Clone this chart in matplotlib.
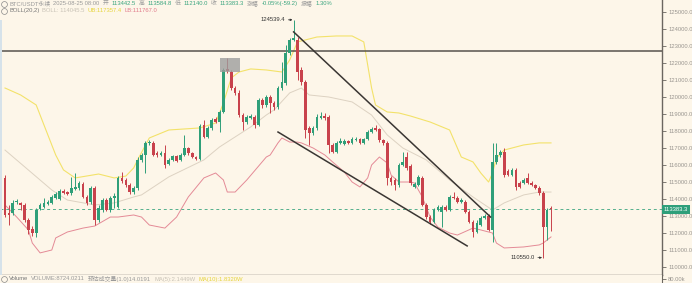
import numpy as np
import matplotlib.pyplot as plt
from matplotlib.lines import Line2D
from matplotlib.patches import Rectangle
from matplotlib.ticker import FormatStrFormatter
from matplotlib.transforms import blended_transform_factory

plt.rcParams['font.family'] = ['Liberation Sans', 'Noto Sans CJK SC', 'DejaVu Sans']

# ---- 4h candles, BTC/USDT perpetual ----
open_ = [
    115240, 113180, 113180, 113820, 113770, 113650, 112770, 112240, 112000, 113410,
    113530, 113710, 113770, 114060, 114000, 114470, 114410, 114350, 114590, 114650,
    114880, 114120, 113820, 114650, 112770, 113350, 113940, 113350, 114060, 113530,
    115240, 115120, 114830, 114410, 114650, 116300, 116590, 117300, 117300, 116710,
    116590, 116710, 116060, 116300, 116530, 116300, 116590, 117000, 116710, 116470,
    116350, 118350, 117650, 118180, 118710, 118530, 119120, 121650, 121470, 120530,
    120240, 118940, 118530, 118770, 118830, 118350, 119820, 119530, 120000, 119650,
    119410, 120530, 120820, 122590, 123350, 123350, 121590, 120880, 118180, 117880,
    118180, 118770, 118880, 118830, 117180, 116770, 117300, 117240, 117410, 117300,
    117470, 117530, 117300, 117530, 117940, 118180, 118120, 117470, 117300, 115240,
    115120, 114830, 116000, 116470, 115940, 114710, 114830, 115240, 113650, 112940,
    112650, 113350, 113240, 113530, 113350, 114120, 114060, 113820, 113820, 113240,
    112650, 112060, 112470, 112880, 113000, 112180, 116180, 116590, 116770, 115650,
    115410, 115710, 114940, 114940, 115240, 114940, 114830, 114650, 114350, 112350,
    113442.5]
high = [
    115410, 113650, 113940, 114000, 113820, 113770, 112880, 112410, 113470, 113770,
    114060, 113940, 114240, 114410, 114590, 114590, 114470, 115300, 115530, 115060,
    115000, 114240, 114770, 114770, 113650, 114060, 114060, 114180, 114350, 115350,
    115590, 115240, 114940, 114770, 116470, 116710, 117410, 117470, 117410, 116830,
    116830, 117180, 116410, 116590, 116590, 116710, 117770, 117060, 116770, 116530,
    118410, 118650, 118300, 118770, 118830, 119240, 121710, 122300, 121590, 120650,
    120410, 119060, 118940, 119000, 118940, 119940, 119940, 120120, 120120, 119770,
    120650, 122060, 123060, 123470, 124539.4, 123530, 121770, 121000, 118300, 118300,
    119000, 119120, 119060, 118940, 117300, 117410, 117590, 117530, 117470, 117650,
    117650, 117590, 117590, 118060, 118240, 118350, 118180, 117530, 117410, 115350,
    115240, 116120, 116770, 116770, 116060, 115000, 115410, 115350, 113770, 113060,
    113470, 113650, 113650, 113650, 114240, 114410, 114180, 114060, 113940, 113350,
    112770, 112770, 113000, 113120, 113120, 117300, 117300, 116880, 117000, 115770,
    115830, 115830, 115060, 115240, 115530, 115060, 114880, 114770, 114470, 113470,
    113584.8]
low = [
    112940, 112470, 113060, 113710, 113350, 112650, 111940, 111820, 111770, 113350,
    113470, 113650, 113710, 114000, 113940, 114300, 114240, 114240, 114530, 114530,
    114060, 113650, 113710, 112470, 112650, 113240, 113300, 113240, 113470, 113470,
    114940, 114710, 114300, 114300, 114530, 116180, 115530, 117180, 116530, 116470,
    116530, 115830, 116000, 116240, 116180, 116240, 116530, 116590, 116410, 116300,
    116300, 117590, 117590, 118060, 118470, 117940, 119060, 121410, 120410, 120120,
    118830, 118060, 118410, 118710, 118180, 118300, 119350, 119410, 119060, 119240,
    119300, 120410, 120710, 122470, 123290, 121000, 120710, 117590, 117180, 117770,
    118060, 118710, 118650, 116710, 116710, 116710, 117240, 117180, 117240, 117240,
    117410, 117240, 117240, 117470, 117880, 118000, 117350, 117180, 114830, 114830,
    114530, 114710, 115940, 115710, 114830, 114650, 114770, 113590, 112830, 112530,
    112590, 113300, 112350, 113300, 113300, 114000, 113770, 113770, 113180, 112590,
    111770, 112000, 112410, 112830, 112120, 111470, 116060, 116470, 115300, 115350,
    115350, 114530, 114650, 114880, 114880, 114770, 114590, 114240, 110550, 111590,
    112140]
close = [
    113060, 113060, 113770, 113880, 113650, 112770, 112180, 112000, 113350, 113650,
    113770, 113820, 114120, 114300, 114470, 114350, 114300, 114650, 114710, 114940,
    114120, 113770, 114650, 112770, 113470, 113940, 113350, 114060, 114180, 115240,
    115060, 114830, 114410, 114650, 116300, 116590, 117300, 117350, 116590, 116590,
    116710, 116000, 116300, 116530, 116240, 116590, 117000, 116710, 116470, 116350,
    118300, 117650, 118180, 118650, 118530, 119120, 121590, 121530, 120530, 120240,
    118940, 118530, 118830, 118880, 118350, 119820, 119530, 120000, 119650, 119410,
    120530, 120880, 122590, 123350, 123470, 121470, 120880, 118060, 117880, 118180,
    118830, 118880, 118770, 117180, 116770, 117300, 117410, 117410, 117300, 117530,
    117530, 117300, 117530, 117940, 118120, 118060, 117470, 117300, 115240, 115000,
    114830, 116000, 116180, 115830, 114940, 114880, 115300, 113650, 112940, 112650,
    113350, 113530, 113530, 113350, 114120, 114060, 113820, 113940, 113240, 112650,
    112060, 112590, 112880, 113000, 112180, 116180, 116590, 116770, 115410, 115410,
    115710, 114710, 114710, 115120, 114940, 114830, 114650, 114350, 112350, 113350,
    113383.3]

# BOLL(20,2) bands, sampled at candle indices
ub_idx = [0, 4, 8, 10, 13, 15, 18, 24, 28, 31, 33, 34, 37, 42, 50, 54, 56, 58, 60, 63,
          67, 71, 73, 75, 80, 85, 89, 92, 93, 94, 95, 98, 101, 104, 109, 114, 117, 120,
          122, 124, 125, 126, 128, 133, 137, 140]
ub_val = [120530, 120120, 119530, 118350, 116590, 115710, 115240, 115470, 115240, 115350,
          115830, 116300, 117590, 118060, 118180, 118470, 119650, 121120, 121470, 121650,
          121590, 121470, 122180, 123240, 123530, 123590, 123590, 123240, 121880, 120530,
          119530, 119120, 119060, 118880, 118530, 118060, 116470, 116180, 115530, 115000,
          115530, 116410, 116880, 117180, 117300, 117300]
mb_idx = [0, 12, 16, 23, 28, 33, 35, 42, 51, 55, 59, 63, 67, 69, 73, 76, 78, 83, 89, 94,
          98, 102, 108, 114, 120, 125, 128, 133, 137, 140]
mb_val = [116880, 114530, 113940, 113650, 113770, 114120, 114240, 115300, 116300, 117060,
          117650, 118240, 118940, 119240, 120240, 120530, 120120, 120000, 119710, 118940,
          117770, 117000, 116300, 115120, 114120, 113350, 113770, 114240, 114410, 114410]
lb_idx = [0, 3, 6, 7, 9, 12, 13, 16, 20, 23, 27, 29, 33, 35, 37, 41, 44, 47, 51, 54,
          56, 57, 59, 62, 67, 68, 70, 71, 73, 75, 76, 79, 82, 84, 87, 89, 91, 93, 94, 96,
          98, 99, 101, 104, 105, 107, 109, 111, 114, 116, 120, 122, 125, 126, 128, 133,
          137, 138, 140]
lb_val = [113650, 112940, 112180, 111410, 110830, 111000, 111710, 112060, 112290, 112410,
          112940, 112940, 113060, 112940, 112470, 112290, 112940, 114120, 115240, 115530,
          115120, 114410, 114410, 115120, 116470, 116590, 117300, 117590, 117350, 117350,
          117300, 117000, 116590, 116180, 115590, 115000, 114710, 115240, 116000, 116470,
          116120, 115410, 115000, 115000, 114940, 114120, 112940, 112350, 112000, 111880,
          112290, 112180, 112000, 111410, 111120, 111180, 111300, 111410, 111770]

# drawn objects: falling channel, resistance level, marked zone
trend_upper = ([74, 124.5], [123830, 112940])
trend_lower = ([70, 118.5], [117940, 111240])
resistance = 122680
zone_x, zone_w = 55.1, 5.2
zone_lo, zone_hi = 121470, 122300

ytick_vals = list(range(110000, 125001, 1000))

BG = '#fdf6e9'
UP = '#2f9f79'
DOWN = '#c8424c'
AXIS = '#6b6660'
TICK_TXT = '#9a9690'
FS = 4.2

W, H = 692, 283
STEP = 3.9  # pixel spacing between candles

fig = plt.figure(figsize=(W / 100, H / 100), dpi=100)
fig.patch.set_facecolor(BG)
ax = fig.add_axes([0, 8 / H, 662 / W, 275 / H])
ax.set_facecolor(BG)
ax.set_xlim(-5 / STEP, (662 - 5) / STEP)
ax.set_ylim(109530, 125706)

o = np.array(open_)
c = np.array(close)
hi = np.array(high)
lo = np.array(low)
idx = np.arange(len(c))
col = np.where(c >= o, UP, DOWN)

# bands
ax.plot(ub_idx, ub_val, color='#f3e26a', lw=0.8, zorder=1)
ax.plot(mb_idx, mb_val, color='#ddd2c2', lw=0.7, zorder=1)
ax.plot(lb_idx, lb_val, color='#e48a96', lw=0.7, zorder=1)

# candles
ax.vlines(idx, lo, hi, colors=col, lw=0.7, zorder=3)
ax.bar(idx, np.maximum(np.abs(c - o), 35), bottom=np.minimum(o, c), width=0.7,
       color=col, lw=0, zorder=4)

# channel + level + zone
ax.plot(*trend_upper, color='#3a3633', lw=1.1, zorder=5)
ax.plot(*trend_lower, color='#3a3633', lw=1.1, zorder=5)
ax.axhline(resistance, color='#57524d', lw=1.1, zorder=2)
ax.add_patch(Rectangle((zone_x, zone_lo), zone_w, zone_hi - zone_lo,
                       facecolor='#9d9d9d', edgecolor='none', alpha=0.8, zorder=6))

# last price line
last = close[-1]
ax.axhline(last, color='#55b08e', lw=0.7, ls=(0, (3, 3)), zorder=2)
trans = blended_transform_factory(ax.transAxes, ax.transData)
ax.text(1.003, last, f'{last:.1f}', transform=trans, ha='left', va='center',
        fontsize=FS, color='white', zorder=10, clip_on=False,
        bbox=dict(facecolor='#2e9f7a', edgecolor='none', pad=1.4))

# max / min markers
i_hi = int(np.argmax(hi))
i_lo = int(np.argmin(lo))
for i, v in ((i_hi, hi[i_hi]), (i_lo, lo[i_lo])):
    ax.annotate(f'{v:.1f}', xy=(i - 0.3, v), xytext=(-5, 0), textcoords='offset points',
                ha='right', va='center', fontsize=FS, color='#333',
                arrowprops=dict(arrowstyle='-|>', lw=0.5, color='#333',
                                mutation_scale=3, shrinkA=0, shrinkB=0))

# price axis
for s in ('left', 'top'):
    ax.spines[s].set_visible(False)
ax.spines['right'].set_color(AXIS)
ax.spines['right'].set_linewidth(1.0)
ax.spines['bottom'].set_color(AXIS)
ax.spines['bottom'].set_linewidth(1.0)
ax.set_xticks([])
ax.yaxis.tick_right()
ax.set_yticks(ytick_vals)
ax.yaxis.set_major_formatter(FormatStrFormatter('%.1f'))
ax.tick_params(axis='y', length=3, width=0.6, color=AXIS, labelsize=FS,
               labelcolor=TICK_TXT, pad=1.5)

# volume strip underneath (only header visible)
axv = fig.add_axes([0, 0, 662 / W, 8 / H])
axv.set_facecolor(BG)
axv.set_xlim(0, 1)
axv.set_ylim(0, 1)
axv.set_xticks([])
for s in ('left', 'top', 'bottom'):
    axv.spines[s].set_visible(False)
axv.spines['right'].set_color(AXIS)
axv.yaxis.tick_right()
axv.set_yticks([0.45])
axv.set_yticklabels(['80.00k'])
axv.tick_params(axis='y', length=3, width=0.6, color=AXIS, labelsize=FS,
                labelcolor=TICK_TXT, pad=1.5)

# thin window edge on the left
fig.add_artist(Rectangle((0, 8 / H), 2 / W, 255 / H, transform=fig.transFigure,
                         facecolor='#d6e2ea', edgecolor='none'))

renderer = fig.canvas.get_renderer()


def info_line(yp, parts, x0=9, gap=3):
    # collapse icon + run of coloured text segments laid out left to right
    fig.add_artist(Line2D([4 / W], [1 - yp / H], transform=fig.transFigure, marker='o',
                          ms=4.2, mfc='none', mec='#8a8a8a', mew=0.5, ls='none'))
    x = x0
    for s, colr in parts:
        t = fig.text(x / W, 1 - yp / H, s, color=colr, fontsize=FS, va='center', ha='left')
        x += t.get_window_extent(renderer=renderer).width + gap


GREY = '#9a9a9a'
GREEN = '#3aa57f'
info_line(3.5, [('BTC/USDT永续', GREY), ('2025-08-25 08:00', GREY),
                ('开', GREY), ('113442.5', GREEN), ('高', GREY), ('113584.8', GREEN),
                ('低', GREY), ('112140.0', GREEN), ('收', GREY), ('113383.3', GREEN),
                ('涨幅', GREY), ('-0.05%(-59.2)', GREEN), ('振幅', GREY), ('1.30%', GREEN)])
info_line(10.5, [('BOLL(20,2)', '#777'), ('BOLL: 114045.5', '#c8c2b6'),
                 ('UB:117357.4', '#e6d43c'), ('LB:111767.0', '#e07a8a')])
info_line(279, [('Volume', '#777'), ('VOLUME:8724.0211', GREY),
                ('预估成交量(1.0)14.0191', GREY), ('MA(5):2.1449W', '#c8c2b6'),
                ('MA(10):1.8320W', '#e6d43c')])

fig.savefig('out.png', dpi=100, facecolor=BG)
